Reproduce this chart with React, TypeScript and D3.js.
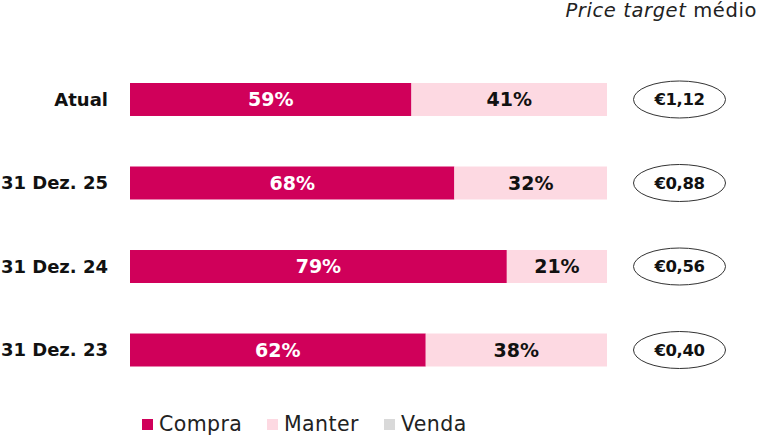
import React from "react";
import * as d3 from "d3";

const categories = ["Atual", "31 Dez. 25", "31 Dez. 24", "31 Dez. 23"];
const compra = [59, 68, 79, 62];
const manter = [41, 32, 21, 38];
const venda = [0, 0, 0, 0];
const priceTargets = ["€1,12", "€0,88", "€0,56", "€0,40"];
const seriesNames = ["Compra", "Manter", "Venda"];
const seriesColors = ["#d0005a", "#fdd9e2", "#d9d9d9"];
const labelColors = ["#ffffff", "#111111", "#111111"];

const W = 760;
const H = 436;
const FONT = "'DejaVu Sans', sans-serif";

export default function App() {
  const x = d3.scaleLinear().domain([0, 100]).range([130, 607]);
  const y = d3
    .scaleBand<string>()
    .domain(categories)
    .range([57.74, 391.76])
    .paddingInner(0.605)
    .paddingOuter(0.3025);
  const bh = y.bandwidth();

  const rows = categories.map((c, i) => {
    const vals = [compra[i], manter[i], venda[i]];
    let acc = 0;
    const segs = vals.map((v, k) => {
      const s = { k, x0: acc, x1: acc + v, v };
      acc += v;
      return s;
    });
    return { c, i, segs };
  });

  const legendX = [142, 267, 384];

  return (
    <svg
      width={W}
      height={H}
      style={{ position: "absolute", left: 0, top: 0, background: "#fff" }}
      fontFamily={FONT}
    >
      <text x={757} y={17} textAnchor="end" fontSize={19.5} fill="#222" letterSpacing={0.6}>
        <tspan fontStyle="italic">Price target</tspan>
        <tspan> médio</tspan>
      </text>
      {rows.map((r) => {
        const y0 = y(r.c)!;
        const cy = y0 + bh / 2;
        return (
          <g key={r.c}>
            <text
              x={108}
              y={cy}
              dy="0.36em"
              textAnchor="end"
              fontSize={18}
              fontWeight="bold"
              fill="#111"
            >
              {r.c}
            </text>
            {r.segs
              .filter((s) => s.v > 0)
              .map((s) => (
                <g key={s.k}>
                  <rect
                    x={x(s.x0)}
                    y={y0}
                    width={x(s.x1) - x(s.x0)}
                    height={bh}
                    fill={seriesColors[s.k]}
                  />
                  <text
                    x={(x(s.x0) + x(s.x1)) / 2}
                    y={cy}
                    dy="0.36em"
                    textAnchor="middle"
                    fontSize={19}
                    fontWeight="bold"
                    fill={labelColors[s.k]}
                  >
                    {s.v}%
                  </text>
                </g>
              ))}
            <ellipse
              cx={679.5}
              cy={cy}
              rx={46}
              ry={18.5}
              fill="#fff"
              stroke="#333"
              strokeWidth={1}
            />
            <text
              x={679.5}
              y={cy}
              dy="0.36em"
              textAnchor="middle"
              fontSize={16.5}
              fontWeight="bold"
              fill="#111"
              letterSpacing={-0.4}
            >
              {priceTargets[r.i]}
            </text>
          </g>
        );
      })}
      {seriesNames.map((n, k) => (
        <g key={n}>
          <rect x={legendX[k]} y={419} width={11} height={11} fill={seriesColors[k]} />
          <text x={legendX[k] + 17} y={431} fontSize={20.5} fill="#222" letterSpacing={0.4}>
            {n}
          </text>
        </g>
      ))}
    </svg>
  );
}
